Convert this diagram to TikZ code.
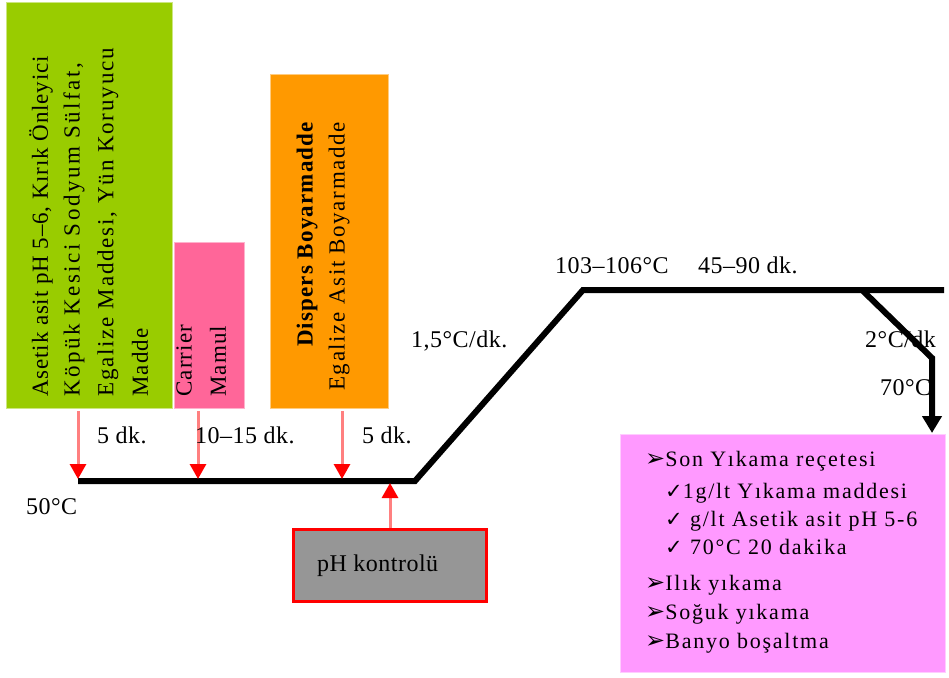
\documentclass[tikz,border=0pt]{standalone}
\usepackage{fontspec}
\setmainfont{Liberation Serif}
\newfontfamily\labf[LetterSpace=2]{Liberation Serif}
\newfontfamily\boxf[LetterSpace=5]{Liberation Serif}
\newfontfamily\listf[LetterSpace=8]{Liberation Serif}
\newfontfamily\symf{DejaVu Sans}
\usetikzlibrary{arrows.meta}
\definecolor{cgreen}{HTML}{99CC00}
\definecolor{cpink}{HTML}{FF6699}
\definecolor{corange}{HTML}{FF9900}
\definecolor{cgrey}{HTML}{969696}
\definecolor{cviolet}{HTML}{FF99FF}
\definecolor{cline}{HTML}{FF8080}
\tikzset{
  colbox/.style={anchor=north west, inner sep=0pt, line width=1pt},
  vtext/.style={rotate=90, inner sep=0pt, font=\boxf\fontsize{23}{27}\selectfont},
  lab/.style={inner sep=0pt, font=\labf\fontsize{24}{28}\selectfont},
  item/.style={inner sep=0pt, anchor=base west, font=\listf\fontsize{22}{26}\selectfont},
  redarr/.style={draw=cline, line width=3pt, -{Triangle[width=16pt,length=15pt,color=red]}},
  profile/.style={draw=black, line width=6pt},
}
\newcommand{\arrb}{{\symf\fontsize{24}{26}\selectfont ➢}}
\newcommand{\chkb}{{\symf\fontsize{21}{23}\selectfont ✓}}
\begin{document}
\begin{tikzpicture}[x=1pt,y=-1pt]
\useasboundingbox (0,0) rectangle (949,677);
% coloured boxes
\node[colbox, fill=cgreen, draw=cgreen!50!white, minimum width=166pt, minimum height=406pt] (g) at (6,2) {};
\node[colbox, fill=cpink, draw=cpink!50!white, minimum width=70pt, minimum height=166pt] (c) at (174,242) {};
\node[colbox, fill=corange, draw=corange!50!white, minimum width=118pt, minimum height=334pt] (o) at (270,74) {};
% texts in boxes
\node[vtext, anchor=west] (g1) at (41,397) {\addfontfeature{LetterSpace=3.7}Asetik asit pH 5–6, Kırık Önleyici};
\node[vtext, anchor=west] (g2) at (74,397) {\addfontfeature{LetterSpace=11}Köpük Kesici Sodyum Sülfat,};
\node[vtext, anchor=west] (g3) at (108,397) {\addfontfeature{LetterSpace=8}Egalize Maddesi, Yün Koruyucu};
\node[vtext, anchor=west] (g4) at (140,397) {Madde};
\node[vtext, anchor=west] (c1) at (184,397) {Carrier};
\node[vtext, anchor=west] (c2) at (218,397) {Mamul};
\node[vtext, anchor=east] (o1) at (307,122) {\bfseries Dispers Boyarmadde};
\node[vtext, anchor=east] (o2) at (339,122) {\addfontfeature{LetterSpace=7}Egalize Asit Boyarmadde};
% temperature profile
\coordinate (s) at (78,481);
\coordinate (e) at (415,481);
\coordinate (t1) at (583,290);
\coordinate (t2) at (944,290);
\coordinate (b1) at (862,290);
\coordinate (b2) at (932,358);
\coordinate (b3) at (932,433);
\draw[profile] (s) -- (e) -- (t1) -- (t2);
\draw[profile, -{Triangle[width=19pt,length=17pt]}] (b1) -- (b2) -- (b3);
% dosing arrows
\coordinate (p1) at (78,479);
\coordinate (p2) at (198,479);
\coordinate (p3) at (342,479);
\coordinate (p4) at (390,483);
\draw[redarr] (g.south -| p1) ++(0,2) -- (p1);
\draw[redarr] (c.south -| p2) ++(0,2) -- (p2);
\draw[redarr] (o.south -| p3) ++(0,2) -- (p3);
% pH box
\node[colbox, fill=cgrey, draw=red, line width=3pt, minimum width=193pt, minimum height=72pt] (ph) at (292,528) {};
\node[lab, anchor=base west] (pht) at (317,571) {pH kontrolü};
\draw[redarr] (ph.north -| p4) -- (p4);
% labels
\node[lab, anchor=base west] (l1) at (97,443) {5 dk.};
\node[lab, anchor=base west] (l2) at (195,443) {10–15 dk.};
\node[lab, anchor=base west] (l3) at (362,443) {5 dk.};
\node[lab, anchor=base west] (l4) at (26,514) {50°C};
\node[lab, anchor=base west] (l5) at (411,347) {1,5°C/dk.};
\node[lab, anchor=base west] (l6) at (555,273) {103–106°C};
\node[lab, anchor=base west] (l7) at (698,273) {45–90 dk.};
\node[lab, anchor=base west] (l8) at (865,347) {2°C/dk};
\node[lab, anchor=base west] (l9) at (880,395) {70°C};
% final washing box
\node[colbox, fill=cviolet, draw=cviolet!50!white, minimum width=325pt, minimum height=238pt] (w) at (620,434) {};
\node[item] (w1) at (645,466) {\arrb Son Yıkama reçetesi};
\node[item] (w2) at (665,498) {\chkb1g/lt Yıkama maddesi};
\node[item] (w3) at (665,526) {\chkb\ g/lt Asetik asit pH 5-6};
\node[item] (w4) at (665,554) {\chkb\ 70°C 20 dakika};
\node[item] (w5) at (645,590) {\arrb Ilık yıkama};
\node[item] (w6) at (645,619) {\arrb Soğuk yıkama};
\node[item] (w7) at (645,648) {\arrb Banyo boşaltma};
\end{tikzpicture}
\end{document}
